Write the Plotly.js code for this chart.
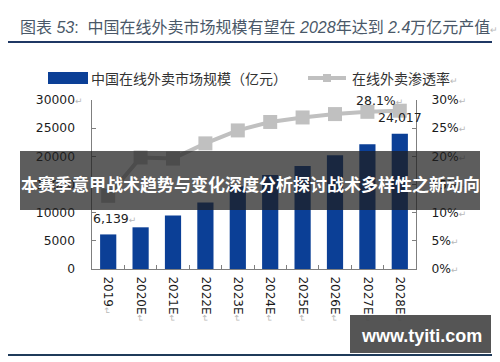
<!DOCTYPE html>
<html>
<head>
<meta charset="utf-8">
<script src="https://cdn.plot.ly/plotly-3.0.1.min.js"></script>
<style>html,body{margin:0;padding:0;background:#fff;}#chart{width:500px;height:362px;}</style>
</head>
<body>
<div id="chart"></div>
<script>
// ---- data ----
const categories = ['2019', '2020E', '2021E', '2022E', '2023E', '2024E', '2025E', '2026E', '2027E', '2028E'];
const marketSize = [6139, 7400, 9500, 11800, 14700, 16700, 18300, 20200, 22150, 24017];   // 亿元
const penetration = [13.0, 19.8, 19.6, 22.3, 24.6, 26.1, 26.9, 27.5, 27.9, 28.1];          // %
const leftTickVals = [0, 5000, 10000, 15000, 20000, 25000, 30000];
const rightTickVals = [0, 5, 10, 15, 20, 25, 30];
const barName = '中国在线外卖市场规模（亿元）';
const lineName = '在线外卖渗透率';
const titleText = '图表 <i>53</i>:  中国在线外卖市场规模有望在 <i>2028</i>年达到 <i>2.4</i>万亿元产值';
const bannerText = '本赛季意甲战术趋势与变化深度分析探讨战术多样性之新动向';
const watermarkText = 'www.tyiti.com';

// ---- geometry helpers (pixel -> paper) ----
const W = 500, H = 362;
const M = {l: 92, r: 84, t: 100, b: 93};
const PW = W - M.l - M.r, PH = H - M.t - M.b;
const px = x => (x - M.l) / PW;
const py = y => (H - M.b - y) / PH;

const RET = '<span style="color:#b8b8b8;font-size:9px">↵</span>';
const fmt = v => v.toLocaleString('en-US');

const BAR_COLOR = '#0b3f96';
const LINE_COLOR = '#c0c0c0';
const AXIS_COLOR = '#7f7f7f';
const CJK = 'Noto Sans CJK SC';
const LAT = 'DejaVu Sans, Noto Sans CJK SC';

const traces = [
  {
    type: 'bar', x: categories, y: marketSize, name: barName,
    marker: {color: BAR_COLOR}, yaxis: 'y', hoverinfo: 'skip'
  },
  {
    type: 'scatter', mode: 'lines+markers', x: categories, y: penetration, name: lineName,
    yaxis: 'y2', line: {color: LINE_COLOR, width: 4},
    marker: {symbol: 'square', size: 14, color: LINE_COLOR}, hoverinfo: 'skip'
  }
];

const first = 0;
const last = categories.length - 1;

const annotations = [
  // title
  {xref: 'paper', yref: 'paper', x: px(18), y: py(27), xanchor: 'left', yanchor: 'middle',
   text: titleText + RET, showarrow: false,
   font: {family: 'Liberation Sans, ' + CJK, size: 16, color: '#4a5868'}},
  // legend texts
  {xref: 'paper', yref: 'paper', x: px(89), y: py(78), xanchor: 'left', yanchor: 'middle',
   text: barName, showarrow: false, font: {family: CJK, size: 14, color: '#333'}},
  {xref: 'paper', yref: 'paper', x: px(350), y: py(78), xanchor: 'left', yanchor: 'middle',
   text: lineName + RET, showarrow: false, font: {family: CJK, size: 14, color: '#333'}},
  // data labels (x given as category index)
  {xref: 'x', yref: 'y', x: first, y: marketSize[first], xanchor: 'center', yanchor: 'bottom',
   xshift: 6, yshift: 6, text: fmt(marketSize[first]) + RET, showarrow: false,
   font: {family: LAT, size: 12.5, color: '#222'}},
  {xref: 'x', yref: 'y', x: last, y: marketSize[last], xanchor: 'center', yanchor: 'bottom',
   xshift: 0, yshift: 7, text: fmt(marketSize[last]), showarrow: false,
   font: {family: LAT, size: 12.5, color: '#222'}},
  {xref: 'x', yref: 'y2', x: last, y: penetration[last], xanchor: 'center', yanchor: 'bottom',
   xshift: -20, yshift: 1, text: penetration[last].toFixed(1) + '%' + RET, showarrow: false,
   font: {family: LAT, size: 12.5, color: '#222'}},
  // banner
  {xref: 'paper', yref: 'paper', x: px(250), y: py(183), xanchor: 'center', yanchor: 'middle',
   text: '<b>' + bannerText + '</b>', showarrow: false,
   font: {family: CJK, size: 17, color: '#ffffff'}},
  // watermark
  {xref: 'paper', yref: 'paper', x: px(421), y: py(336), xanchor: 'center', yanchor: 'middle',
   text: '<b>' + watermarkText + '</b>', showarrow: false,
   font: {family: 'Liberation Sans', size: 18, color: '#ffffff'}}
];

const shapes = [
  // title underline
  {type: 'line', xref: 'paper', yref: 'paper', x0: px(8), x1: px(492), y0: py(42), y1: py(42),
   line: {color: '#1f3864', width: 2}},
  // bottom rule
  {type: 'line', xref: 'paper', yref: 'paper', x0: px(8), x1: px(492), y0: py(355), y1: py(355),
   line: {color: '#1f3b5a', width: 2}},
  // legend symbols
  {type: 'rect', xref: 'paper', yref: 'paper', x0: px(48), x1: px(88), y0: py(72), y1: py(84),
   fillcolor: BAR_COLOR, line: {width: 0}},
  {type: 'line', xref: 'paper', yref: 'paper', x0: px(308), x1: px(346), y0: py(78), y1: py(78),
   line: {color: LINE_COLOR, width: 4}},
  {type: 'rect', xref: 'paper', yref: 'paper', x0: px(323), x1: px(331), y0: py(74), y1: py(82),
   fillcolor: LINE_COLOR, line: {width: 0}},
  // banner overlay
  {type: 'rect', xref: 'paper', yref: 'paper', x0: px(20), x1: px(480), y0: py(151), y1: py(210),
   fillcolor: 'rgba(30,30,30,0.72)', line: {width: 0}, layer: 'above'},
  // watermark box
  {type: 'rect', xref: 'paper', yref: 'paper', x0: px(350), x1: px(491), y0: py(315), y1: py(353),
   fillcolor: 'rgba(70,70,70,0.92)', line: {width: 0}, layer: 'above'}
];

const layout = {
  width: W, height: H,
  margin: M,
  paper_bgcolor: '#ffffff', plot_bgcolor: '#ffffff',
  showlegend: false,
  bargap: 0.5,
  xaxis: {
    type: 'category', range: [-0.5, categories.length - 0.5], autorange: false,
    tickangle: 90,
    showline: true, linecolor: AXIS_COLOR, linewidth: 1,
    ticks: 'inside', tickson: 'boundaries', ticklen: 4, tickcolor: AXIS_COLOR,
    tickmode: 'array', tickvals: categories, ticktext: categories.map(c => c + RET),
    tickfont: {family: LAT, size: 12, color: '#1a1a1a'},
    ticklabelstandoff: 4,
    showgrid: false, zeroline: false, fixedrange: true
  },
  yaxis: {
    range: [0, 30000], autorange: false,
    showline: true, linecolor: AXIS_COLOR, linewidth: 1,
    ticks: 'inside', ticklen: 4, tickcolor: AXIS_COLOR,
    tickmode: 'array', tickvals: leftTickVals,
    ticktext: leftTickVals.map(v => v === 30000 ? String(v) + RET : String(v) + '<span style="color:#fff;font-size:9px">↵</span>'),
    tickfont: {family: LAT, size: 12.3, color: '#1a1a1a'},
    ticklabelstandoff: 6,
    showgrid: false, zeroline: false, fixedrange: true
  },
  yaxis2: {
    range: [0, 30], autorange: false, overlaying: 'y', side: 'right',
    showline: true, linecolor: AXIS_COLOR, linewidth: 1,
    ticks: 'inside', ticklen: 4, tickcolor: AXIS_COLOR,
    tickmode: 'array', tickvals: rightTickVals, ticktext: rightTickVals.map(v => v + '%' + RET),
    tickfont: {family: LAT, size: 12.3, color: '#1a1a1a'},
    ticklabelstandoff: 12,
    showgrid: false, zeroline: false, fixedrange: true
  },
  annotations: annotations,
  shapes: shapes
};

Plotly.newPlot('chart', traces, layout, {staticPlot: true, displayModeBar: false});
</script>
</body>
</html>
